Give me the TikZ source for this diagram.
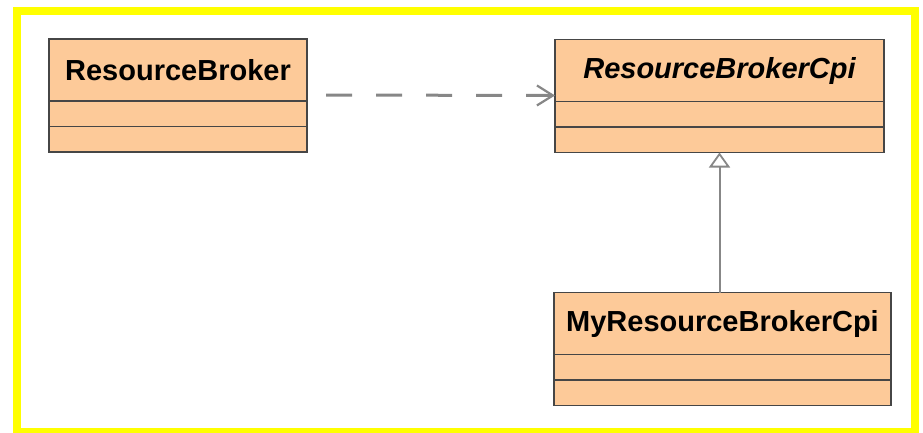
\documentclass[tikz,border=0pt]{standalone}
\usepackage{fontspec}
\setmainfont{Liberation Sans}
\usetikzlibrary{arrows.meta,positioning}
\definecolor{classfill}{RGB}{253,202,153}
\definecolor{classline}{RGB}{70,70,70}
\definecolor{linkgray}{RGB}{135,135,135}
\definecolor{frameyellow}{RGB}{255,255,0}

\begin{document}
\begin{tikzpicture}[x=1pt,y=-1pt,semithick]
    \tikzset{every node/.style={inner sep=0pt,outer sep=0pt},
             classbox/.style={draw=classline,fill=classfill,line width=1.5pt,
                              minimum height=62pt,font=\fontsize{29}{34}\selectfont\bfseries},
             compart/.style={draw=classline,fill=classfill,line width=1.5pt,
                             minimum height=25.5pt},
             depend/.style={draw=linkgray,line width=3pt,dash pattern=on 26pt off 24pt,
                            -{Straight Barb[length=16pt,width=20pt,line width=2.2pt]}},
             realize/.style={draw=linkgray,line width=2pt,
                             -{Triangle[open,length=15pt,width=21pt,fill=white,line width=1.8pt]}}}
    \useasboundingbox (0,0) rectangle (923,432);
    \draw[frameyellow,line width=8pt] (17,11) rectangle (915,432);

    \node[classbox,minimum width=258pt] (rb) at (178,70) {ResourceBroker};
    \node[compart,minimum width=258pt,below=0pt of rb] (rbattr) {};
    \node[compart,minimum width=258pt,below=0pt of rbattr] (rbops) {};

    \node[classbox,minimum width=329pt] (cpi) at (719.5,70.5) {\itshape ResourceBrokerCpi};
    \node[compart,minimum width=329pt,below=0pt of cpi] (cpiattr) {};
    \node[compart,minimum width=329pt,below=0pt of cpiattr] (cpiops) {};

    \node[classbox,minimum width=337pt] (my) at (722.5,323.5) {MyResourceBrokerCpi};
    \node[compart,minimum width=337pt,below=0pt of my] (myattr) {};
    \node[compart,minimum width=337pt,below=0pt of myattr] (myops) {};

    \draw[depend] ([xshift=19pt,yshift=6pt]rb.south east) -- ([yshift=6pt]cpi.south west);
    \draw[realize] (my.north -| cpiops.south) -- (cpiops.south);
\end{tikzpicture}
\end{document}
